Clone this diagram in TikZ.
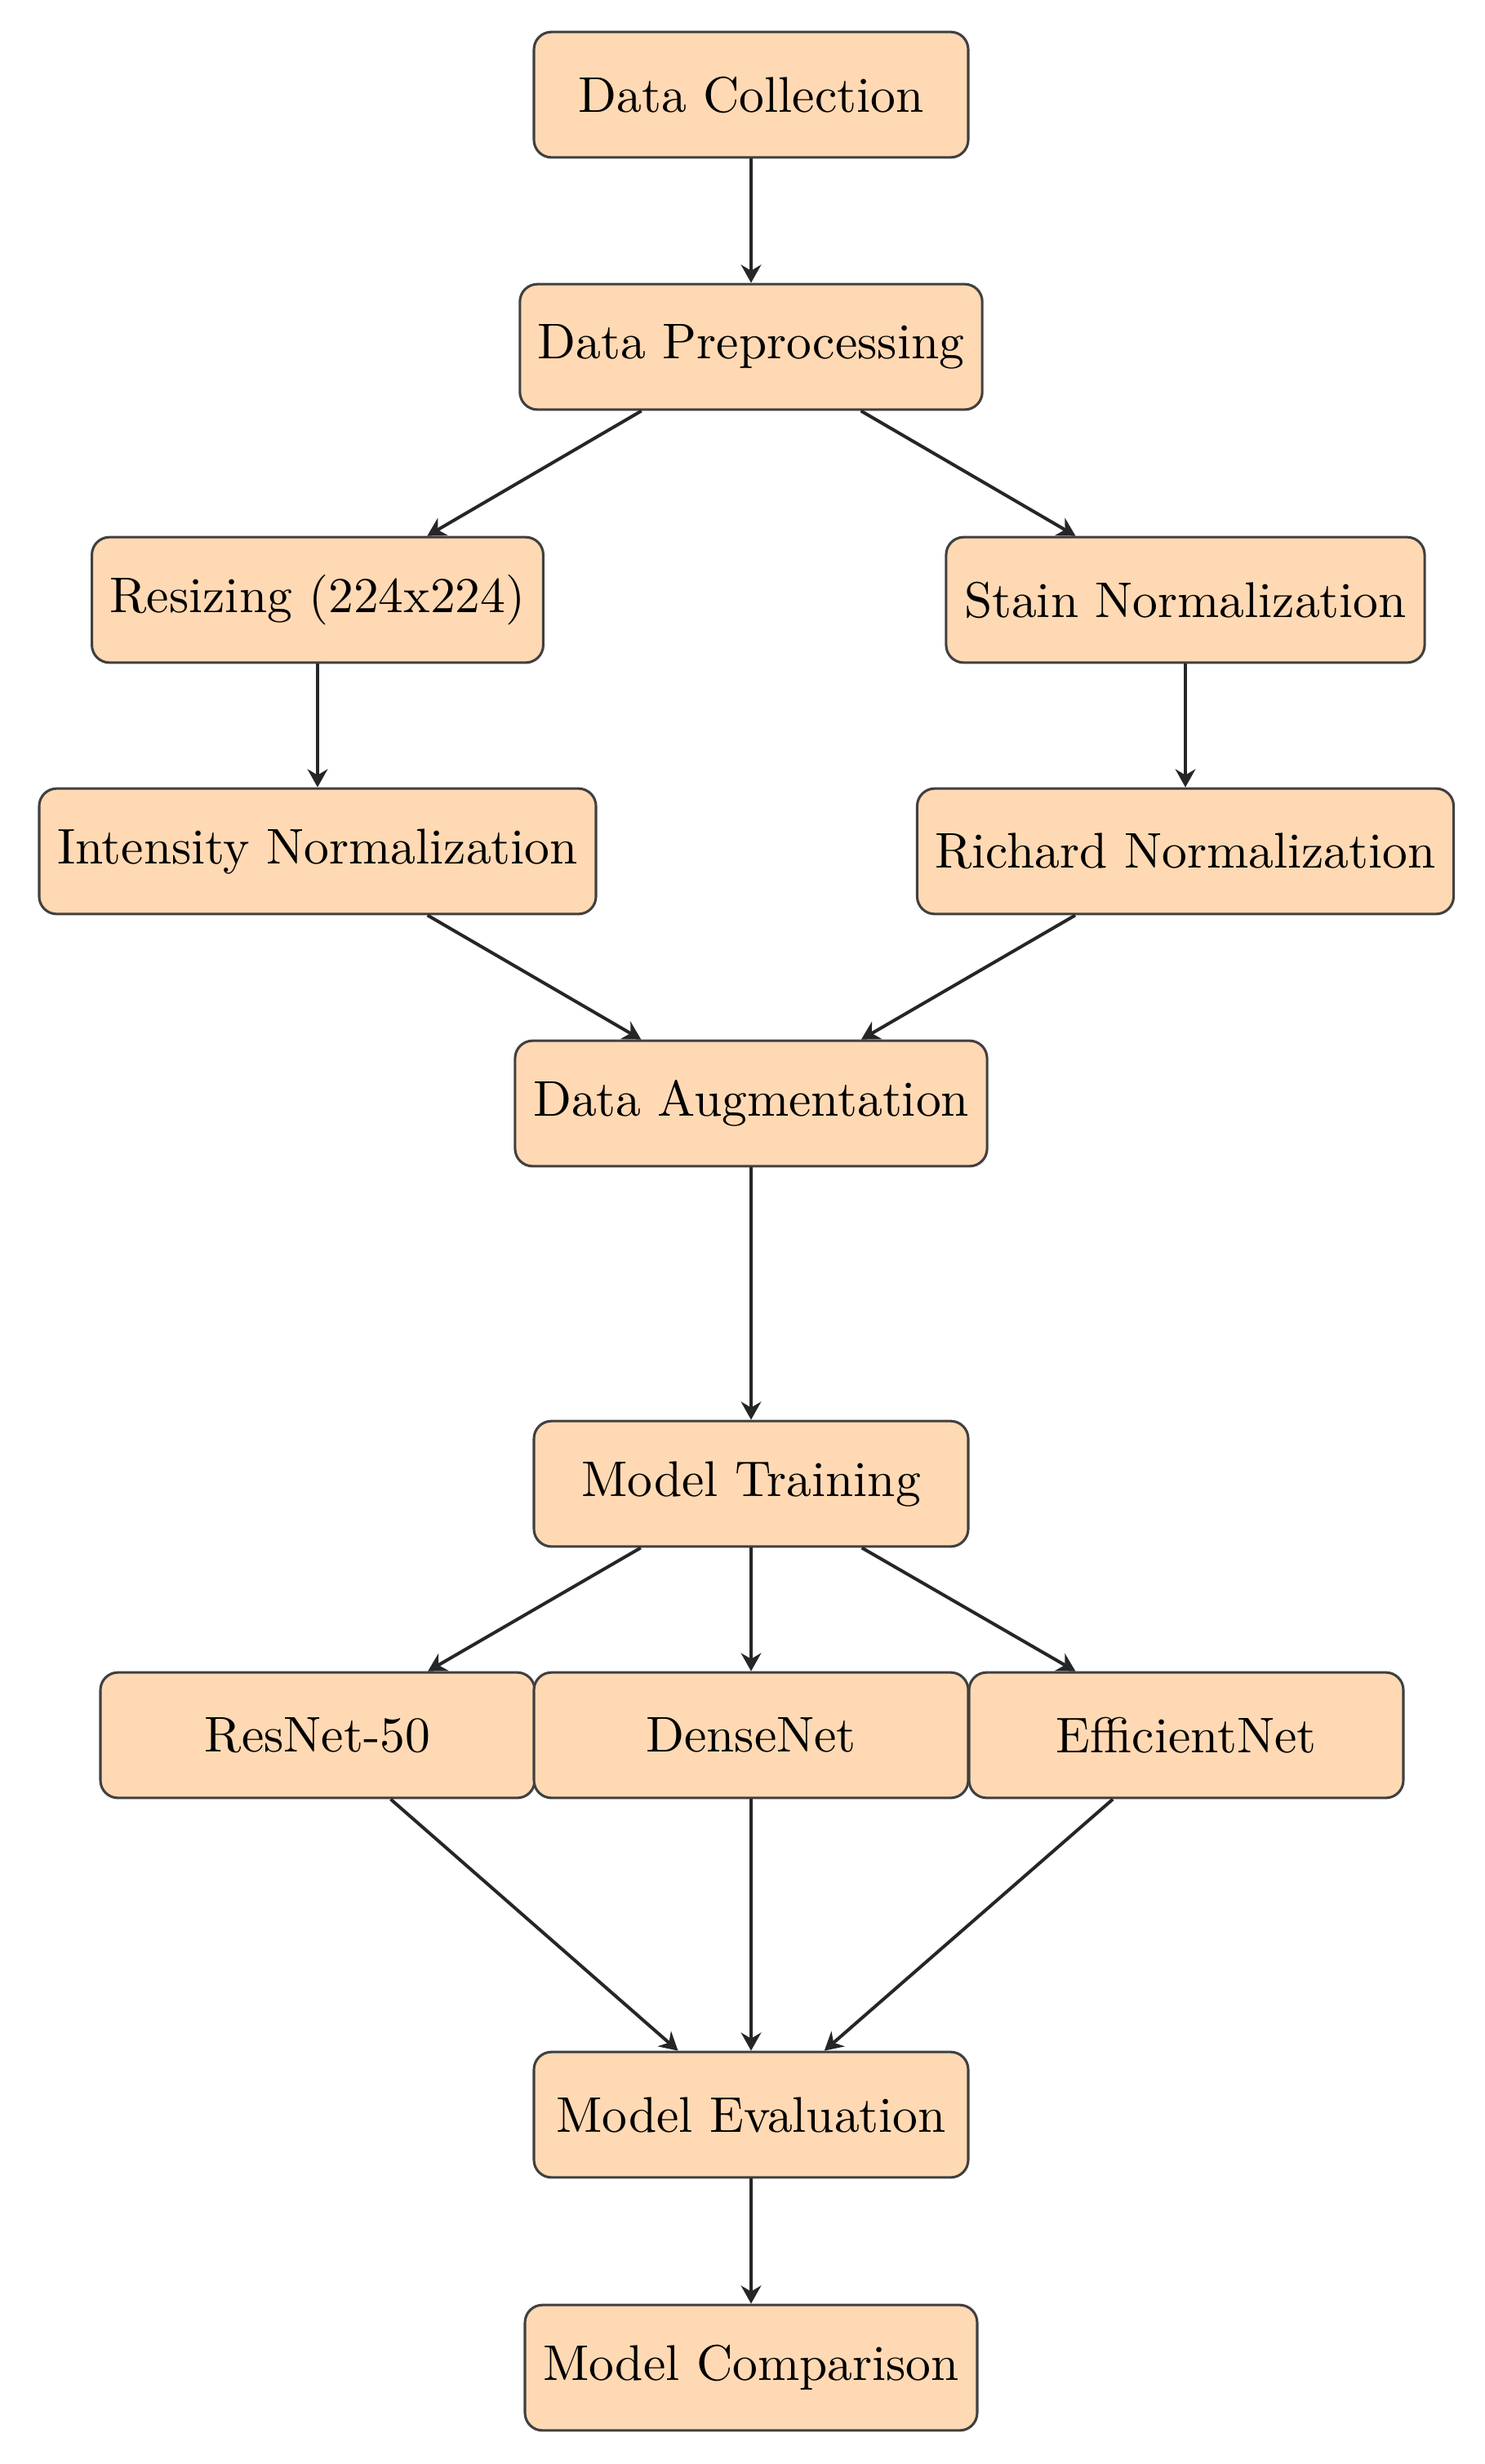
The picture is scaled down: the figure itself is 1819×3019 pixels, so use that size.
\documentclass[tikz,border=0pt]{standalone}
\usetikzlibrary{arrows.meta}
\definecolor{boxfill}{RGB}{255,217,179}
\begin{document}
\begin{tikzpicture}[x=0.1626pt,y=-0.1626pt,
  box/.style={draw=black!75, line width=0.5pt, fill=boxfill, rounded corners=3.5pt,
    minimum width=86.5pt, minimum height=25pt, inner sep=3.6pt, font=\fontsize{10}{12}\selectfont},
  arr/.style={draw=black!85, line width=0.65pt, -{Stealth[length=3.6pt,width=4pt]}}]
\useasboundingbox (0,0) rectangle (1819,3019);
\node[box] (dc)   at (920,116)  {Data Collection};
\node[box] (dp)   at (920,425)  {Data Preprocessing};
\node[box] (res)  at (389,735)  {Resizing (224x224)};
\node[box] (st)   at (1452,735) {Stain Normalization};
\node[box] (int)  at (389,1043) {Intensity Normalization};
\node[box] (rich) at (1452,1043){Richard Normalization};
\node[box] (aug)  at (920,1352) {Data Augmentation};
\node[box] (mt)   at (920,1818) {Model Training};
\node[box] (rn)   at (389,2126) {ResNet-50};
\node[box] (dn)   at (920,2126) {DenseNet};
\node[box] (en)   at (1453,2126){EfficientNet};
\node[box] (ev)   at (920,2591) {Model Evaluation};
\node[box] (cmp)  at (920,2901) {Model Comparison};
\draw[arr] (dc) -- (dp);
\draw[arr] (dp) -- (res);
\draw[arr] (dp) -- (st);
\draw[arr] (res) -- (int);
\draw[arr] (st) -- (rich);
\draw[arr] (int) -- (aug);
\draw[arr] (rich) -- (aug);
\draw[arr] (aug) -- (mt);
\draw[arr] (mt) -- (rn);
\draw[arr] (mt) -- (dn);
\draw[arr] (mt) -- (en);
\draw[arr] (rn) -- (ev);
\draw[arr] (dn) -- (ev);
\draw[arr] (en) -- (ev);
\draw[arr] (ev) -- (cmp);
\end{tikzpicture}
\end{document}
